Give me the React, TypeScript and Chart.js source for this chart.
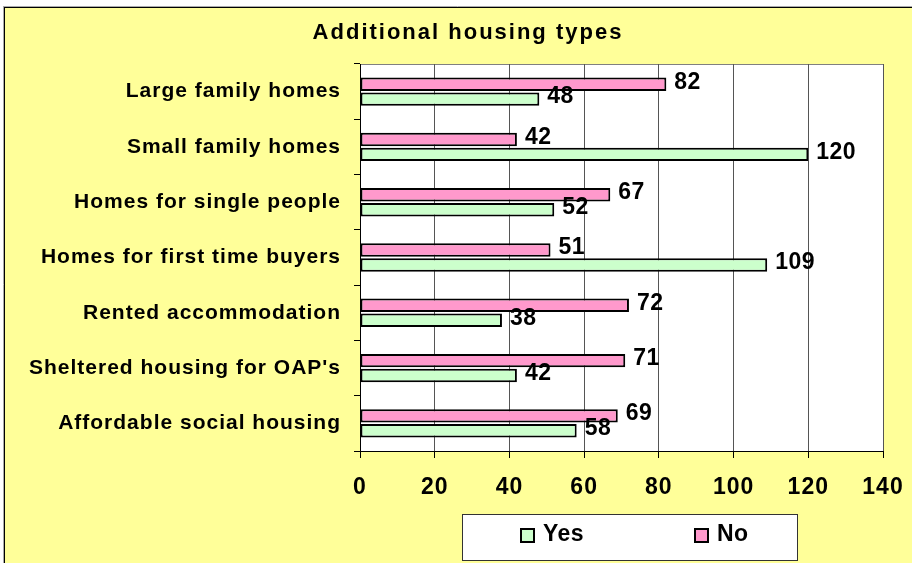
import React, { useEffect, useRef } from "react";
import { Chart, registerables } from "chart.js";

Chart.register(...registerables);

const categories = [
  "Large family homes",
  "Small family homes",
  "Homes for single people",
  "Homes for first time buyers",
  "Rented accommodation",
  "Sheltered housing for OAP's",
  "Affordable social housing",
];
const noValues = [82, 42, 67, 51, 72, 71, 69];
const yesValues = [48, 120, 52, 109, 38, 42, 58];
const xMin = 0;
const xMax = 140;
const xStep = 20;
const titleText = "Additional housing types";

const FONT = "'Liberation Sans', Arial, sans-serif";
const YELLOW = "#FFFF99";
const PINK = "#FF99CC";
const GREEN = "#CCFFCC";

const backgroundPlugin = {
  id: "bgFrame",
  beforeDraw(chart: any) {
    const { ctx, width, height, chartArea } = chart;
    ctx.save();
    ctx.fillStyle = "#ffffff";
    ctx.fillRect(0, 0, width, height);
    ctx.fillStyle = YELLOW;
    ctx.fillRect(4, 7, width - 4, height - 7);
    ctx.strokeStyle = "#aaaaaa";
    ctx.lineWidth = 1;
    ctx.beginPath();
    ctx.moveTo(3.5, 6);
    ctx.lineTo(3.5, height);
    ctx.moveTo(3, 6.5);
    ctx.lineTo(width, 6.5);
    ctx.stroke();
    ctx.strokeStyle = "#000000";
    ctx.beginPath();
    ctx.moveTo(4.5, 7);
    ctx.lineTo(4.5, height);
    ctx.moveTo(4, 7.5);
    ctx.lineTo(width, 7.5);
    ctx.stroke();
    // plot area
    ctx.fillStyle = "#ffffff";
    ctx.fillRect(chartArea.left, chartArea.top, chartArea.right - chartArea.left, chartArea.bottom - chartArea.top);
    ctx.strokeStyle = "#808080";
    ctx.strokeRect(chartArea.left + 0.5, chartArea.top + 0.5, chartArea.right - chartArea.left, chartArea.bottom - chartArea.top);
    // title
    (ctx as any).letterSpacing = "2px";
    ctx.font = `bold 22px ${FONT}`;
    ctx.fillStyle = "#000";
    ctx.textAlign = "center";
    ctx.textBaseline = "middle";
    ctx.fillText(titleText, width / 2 + 12, 33);
    ctx.restore();
    (ctx as any).letterSpacing = "1px";
  },
  beforeDatasetsDraw(chart: any) {
    (chart.ctx as any).letterSpacing = "0px";
  },
};

const valueLabelPlugin = {
  id: "valueLabels",
  afterDatasetsDraw(chart: any) {
    const { ctx } = chart;
    ctx.save();
    (ctx as any).letterSpacing = "0.5px";
    ctx.font = `bold 23px ${FONT}`;
    ctx.fillStyle = "#000";
    ctx.textAlign = "left";
    ctx.textBaseline = "middle";
    chart.data.datasets.forEach((ds: any, di: number) => {
      const meta = chart.getDatasetMeta(di);
      meta.data.forEach((el: any, i: number) => {
        ctx.fillText(String(ds.data[i]), el.x + 8, el.y - 2);
      });
    });
    ctx.restore();
  },
};

const legendPlugin = {
  id: "boxLegend",
  afterDraw(chart: any) {
    const { ctx, chartArea } = chart;
    const boxW = 335;
    const boxH = 46;
    const left = chartArea.left + 102;
    const top = chartArea.bottom + 63;
    ctx.save();
    (ctx as any).letterSpacing = "0.5px";
    ctx.fillStyle = "#ffffff";
    ctx.fillRect(left, top, boxW, boxH);
    ctx.strokeStyle = "#333333";
    ctx.lineWidth = 1;
    ctx.strokeRect(left + 0.5, top + 0.5, boxW, boxH);
    const order = [1, 0];
    const offsets = [58, 232];
    ctx.font = `bold 23px ${FONT}`;
    ctx.textBaseline = "middle";
    ctx.textAlign = "left";
    order.forEach((di, k) => {
      const ds = chart.data.datasets[di];
      const sx = left + offsets[k];
      const sy = top + 14;
      ctx.fillStyle = ds.backgroundColor;
      ctx.fillRect(sx, sy, 14, 14);
      ctx.strokeStyle = "#000";
      ctx.lineWidth = 2;
      ctx.strokeRect(sx + 1, sy + 1, 13, 13);
      ctx.fillStyle = "#000";
      ctx.fillText(ds.label, sx + 23, top + 21);
    });
    ctx.restore();
  },
};

export default function App() {
  const canvasRef = useRef<HTMLCanvasElement>(null);

  useEffect(() => {
    if (!canvasRef.current) return;
    const chart = new Chart(canvasRef.current, {
      type: "bar",
      data: {
        labels: categories,
        datasets: [
          {
            label: "No",
            data: noValues,
            backgroundColor: PINK,
            borderColor: "#000000",
            borderWidth: 2,
            borderSkipped: false,
            barPercentage: 0.9,
            categoryPercentage: 0.54,
          },
          {
            label: "Yes",
            data: yesValues,
            backgroundColor: GREEN,
            borderColor: "#000000",
            borderWidth: 2,
            borderSkipped: false,
            barPercentage: 0.9,
            categoryPercentage: 0.54,
          },
        ],
      },
      options: {
        indexAxis: "y",
        animation: false,
        responsive: false,
        events: [],
        layout: { padding: { top: 64, right: 29, bottom: 0, left: 0 } },
        plugins: {
          legend: { display: false },
          tooltip: { enabled: false },
          title: { display: false },
        },
        scales: {
          x: {
            min: xMin,
            max: xMax,
            ticks: {
              stepSize: xStep,
              color: "#000",
              font: { family: FONT, size: 23, weight: "bold" },
              padding: 16,
              maxRotation: 0,
            },
            grid: {
              color: "#555555",
              tickColor: "#000000",
              tickLength: 7,
              drawOnChartArea: true,
            },
            border: { color: "#000000", width: 1 },
            afterFit(scale: any) {
              scale.height = 112;
              scale.paddingRight = 0;
              scale.paddingLeft = 0;
            },
          },
          y: {
            ticks: {
              color: "#000",
              font: { family: FONT, size: 21, weight: "bold" },
              padding: 13,
            },
            grid: {
              drawOnChartArea: false,
              tickColor: "#000000",
              tickLength: 6,
              offset: true,
            },
            border: { color: "#000000", width: 1 },
            afterFit(scale: any) {
              scale.width = 360;
            },
          },
        },
      },
      plugins: [backgroundPlugin, valueLabelPlugin, legendPlugin],
    });
    return () => chart.destroy();
  }, []);

  return (
    <div style={{ position: "fixed", left: 0, top: 0, width: 912, height: 563 }}>
      <canvas ref={canvasRef} width={912} height={563} style={{ display: "block" }} />
    </div>
  );
}
